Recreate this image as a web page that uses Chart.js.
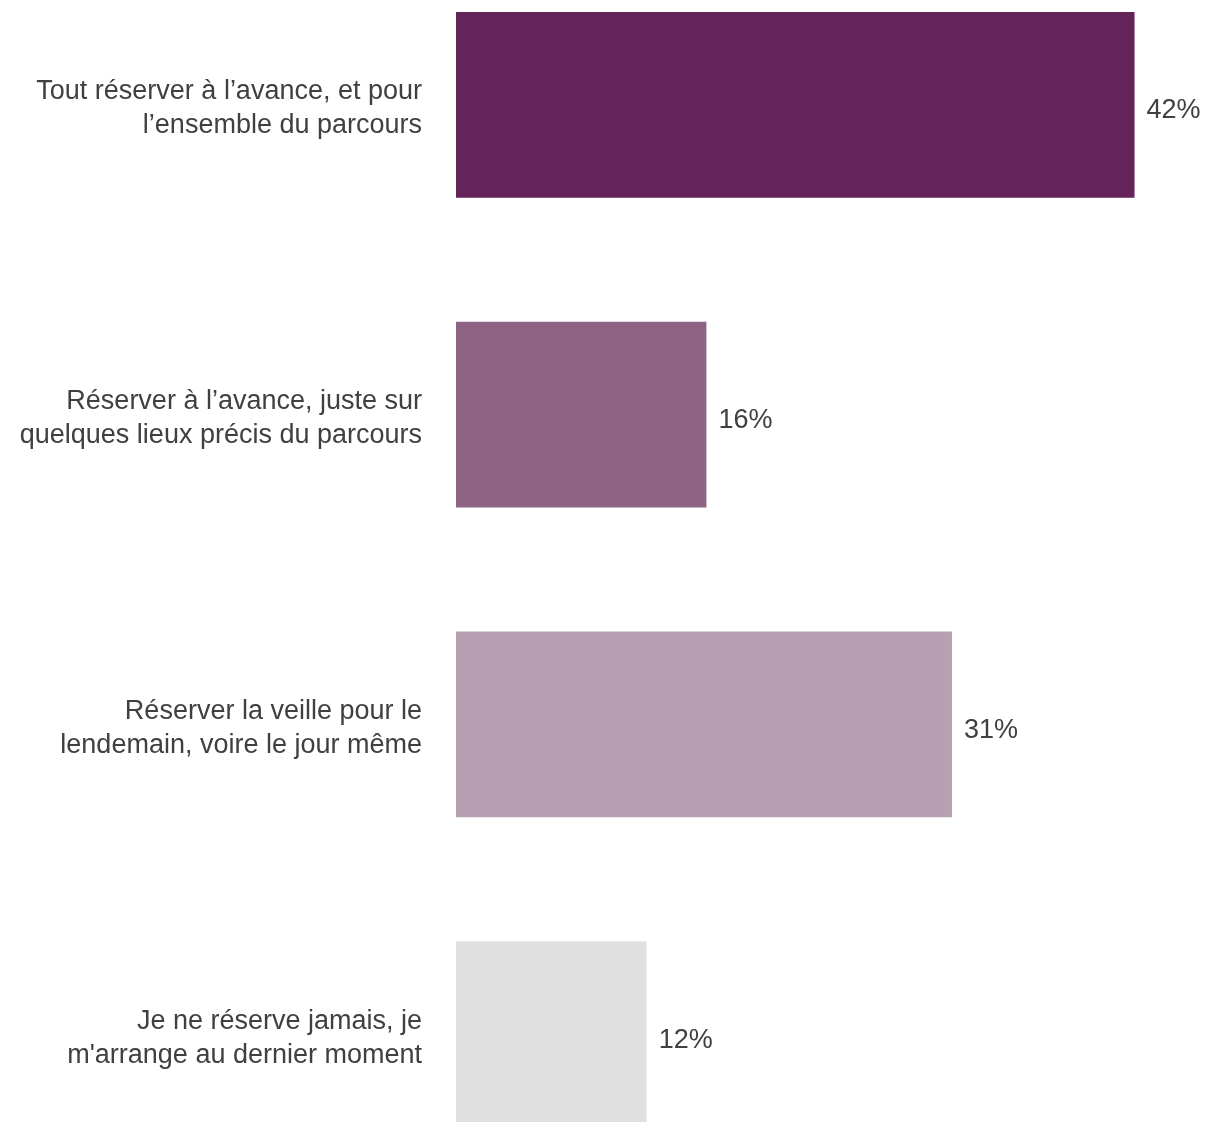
<!DOCTYPE html>
<html>
<head>
<meta charset="utf-8">
<script src="https://cdn.jsdelivr.net/npm/chart.js@4/dist/chart.umd.min.js"></script>
<style>
  html, body { margin: 0; padding: 0; background: #fff; overflow: hidden; width: 1207px; height: 1122px; }
  #barChart { position: absolute; left: 0; top: -50px; }
</style>
</head>
<body>
<canvas id="barChart" width="1207" height="1239"></canvas>
<script>
// categories (two lines each) and shares in %
const categories = [
  ["Tout réserver à l’avance, et pour", "l’ensemble du parcours"],
  ["Réserver à l’avance, juste sur", "quelques lieux précis du parcours"],
  ["Réserver la veille pour le", "lendemain, voire le jour même"],
  ["Je ne réserve jamais, je", "m'arrange au dernier moment"]
];
const shares = [42.0, 15.5, 30.7, 11.8];
const barColors = ["#642459", "#8d6283", "#b8a0b2", "#e0e0e0"];

const valueLabels = {
  id: 'valueLabels',
  afterDatasetsDraw(chart) {
    const ctx = chart.ctx;
    const meta = chart.getDatasetMeta(0);
    ctx.save();
    ctx.font = '27px "Liberation Sans", Arial, sans-serif';
    ctx.fillStyle = '#404040';
    ctx.textAlign = 'left';
    ctx.textBaseline = 'middle';
    meta.data.forEach(function(bar, i){
      ctx.fillText(Math.round(shares[i]) + '%', bar.x + 12, bar.y + 6);
    });
    ctx.restore();
  }
};

const CHART = document.getElementById("barChart");

new Chart(CHART, {
  type: 'bar',
  data: {
    labels: categories,
    datasets: [{
      data: shares,
      backgroundColor: barColors,
      borderWidth: 0,
      barPercentage: 0.6,
      categoryPercentage: 1
    }]
  },
  options: {
    indexAxis: 'y',
    responsive: false,
    animation: false,
    layout: { padding: { left: 0, right: 24, top: 0, bottom: 0 } },
    plugins: {
      legend: { display: false },
      tooltip: { enabled: false }
    },
    scales: {
      x: {
        display: false,
        min: 0,
        max: 45
      },
      y: {
        grid: { display: false, drawTicks: false },
        border: { display: false },
        afterFit: function(scale){
          scale.width = 456;
          scale.paddingTop = 0;
          scale.paddingBottom = 0;
        },
        ticks: {
          padding: 34,
          labelOffset: 4,
          color: '#404040',
          font: { family: '"Liberation Sans", Arial, sans-serif', size: 27, lineHeight: 1.26 }
        }
      }
    }
  },
  plugins: [valueLabels]
});
</script>
</body>
</html>
